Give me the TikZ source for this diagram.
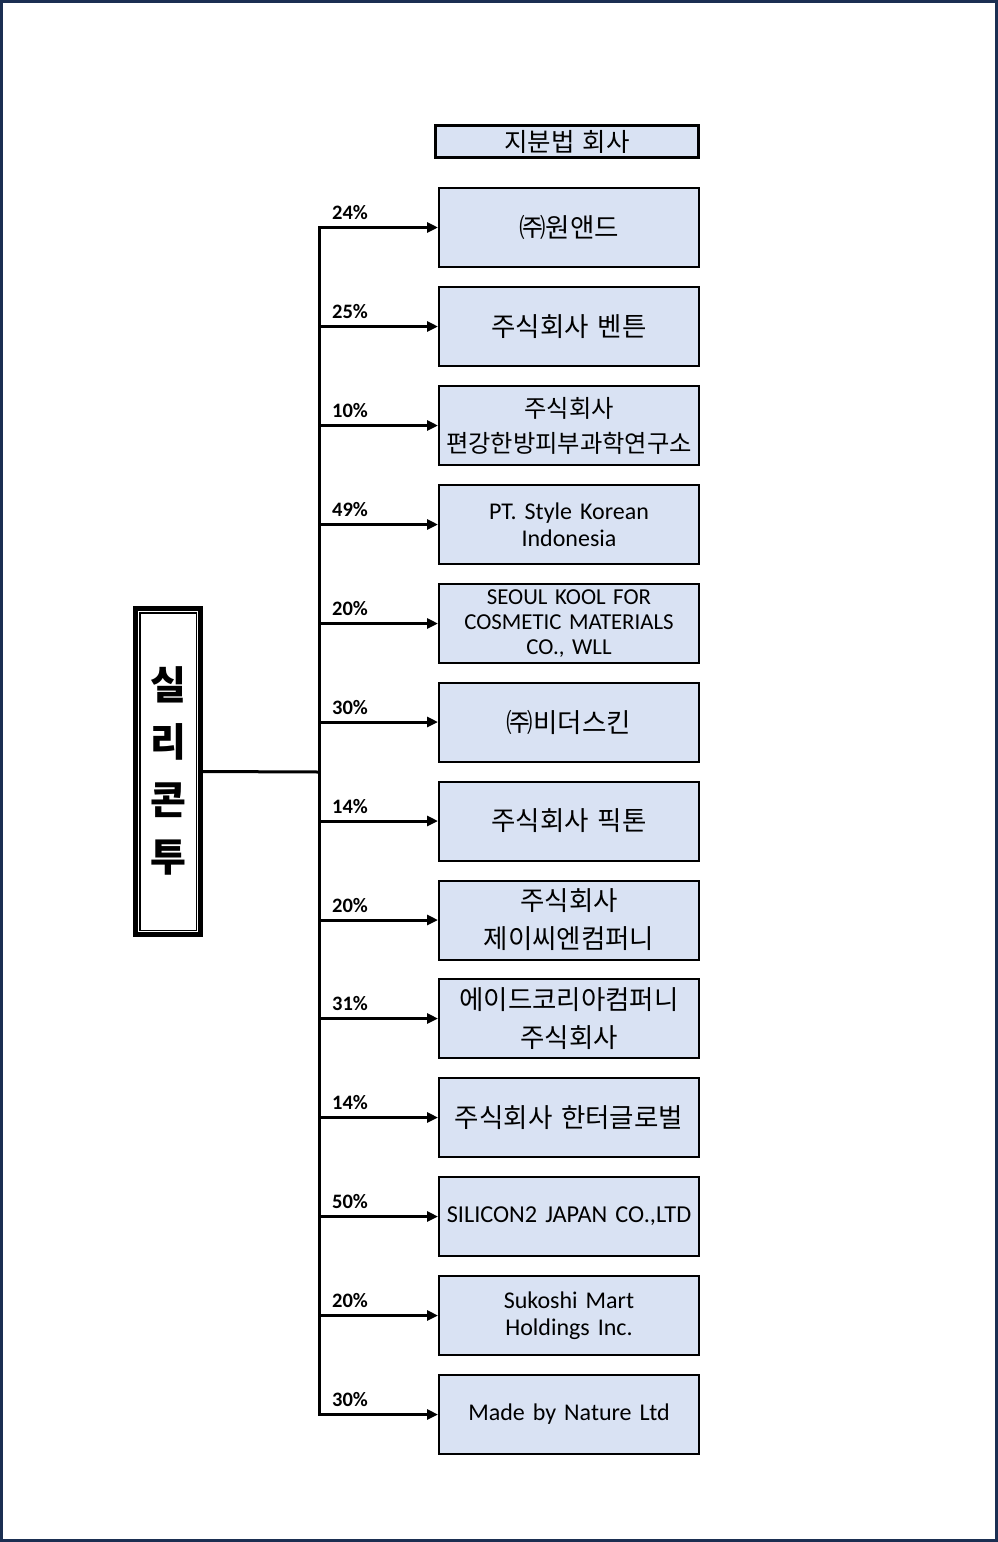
\documentclass[tikz,border=0pt]{standalone}
\usepackage{fontspec}
\setmainfont{Carlito}[WordSpace=0.75]
\newfontfamily\kr{Noto Sans CJK KR}
\usetikzlibrary{arrows.meta}
\definecolor{boxfill}{HTML}{D9E2F3}
\definecolor{pageframe}{HTML}{1B2F52}
\tikzset{
  box/.style={draw=black, line width=2pt, fill=boxfill, minimum width=260pt, minimum height=79pt, inner sep=0pt, align=center, text width=258pt},
  lat/.style={font=\fontsize{24}{28}\selectfont},
  kor/.style={font=\kr\fontsize{26.5}{36}\selectfont},
  pct/.style={font=\bfseries\fontsize{20.5}{22}\selectfont, anchor=base west, inner sep=0pt},
  conn/.style={line width=3pt, draw=black},
  arr/.style={conn, -{Triangle[length=11pt,width=10pt]}, shorten >=0pt},
}
\begin{document}
\begin{tikzpicture}[x=1pt,y=-1pt]
\useasboundingbox (0,0) rectangle (998,1542);
\draw[pageframe, line width=2.6pt] (1.3,1.3) rectangle (996.7,1540.7);

% header
\node[box, line width=3.5pt, minimum width=263pt, minimum height=32pt, text width=258pt, font=\kr\fontsize{25.5}{28}\selectfont] (hdr) at (567,141.5) {지분법 회사};

% left box
\node[draw=black, line width=4.5pt, minimum width=65pt, minimum height=326pt, inner sep=0pt] (sil) at (168,771.5) {};
\draw[black, line width=1.5pt] ([shift={(6.5pt,-6.5pt)}]sil.north west) rectangle ([shift={(-6.5pt,6.5pt)}]sil.south east);
\node[font=\kr\bfseries\fontsize{39}{57.5}\selectfont, align=center, inner sep=0pt] (siltxt) at (168,771) {실\\리\\콘\\투};

% trunk
\coordinate (hub) at (319,772);
\draw[conn] (sil.east) -- (hub);

% boxes
\node[box, kor] (b1) at (569,227.5) {㈜원앤드};
\node[box, kor] (b2) at (569,326.5) {주식회사 벤튼};
\node[box, kor, font=\kr\fontsize{24.3}{35}\selectfont] (b3) at (569,425.5) {주식회사\\편강한방피부과학연구소};
\node[box, lat, font=\fontsize{24}{27}\selectfont] (b4) at (569,524.5) {PT. Style Korean\\Indonesia};
\node[box, lat, font=\fontsize{22.8}{25}\selectfont] (b5) at (569,623.5) {SEOUL KOOL FOR\\COSMETIC MATERIALS\\CO., WLL};
\node[box, kor] (b6) at (569,722) {㈜비더스킨};
\node[box, kor] (b7) at (569,821) {주식회사 픽톤};
\node[box, kor, font=\kr\fontsize{26.5}{38}\selectfont] (b8) at (569,920) {주식회사\\제이씨엔컴퍼니};
\node[box, kor, font=\kr\fontsize{26.5}{38}\selectfont] (b9) at (569,1018.5) {에이드코리아컴퍼니\\주식회사};
\node[box, kor] (b10) at (569,1117.5) {주식회사 한터글로벌};
\node[box, lat, font=\fontsize{24.3}{28}\selectfont] (b11) at (569,1216.5) {SILICON2 JAPAN CO.,LTD};
\node[box, lat, font=\fontsize{24}{27}\selectfont] (b12) at (569,1315.5) {Sukoshi Mart\\Holdings Inc.};
\node[box, lat] (b13) at (569,1414.5) {Made by Nature Ltd};

% junctions and arrows
\foreach \i/\p in {1/24,2/25,3/10,4/49,5/20,6/30,7/14,8/20,9/31,10/14,11/50,12/20,13/30}{
  \coordinate (j\i) at (hub |- b\i.west);
  \draw[arr] (j\i) -- (b\i.west);
  \node[pct] (p\i) at ([shift={(13pt,8pt)}]j\i) {\p\%};
}
\draw[conn, line cap=rect] (j1) -- (j13);
\end{tikzpicture}
\end{document}
